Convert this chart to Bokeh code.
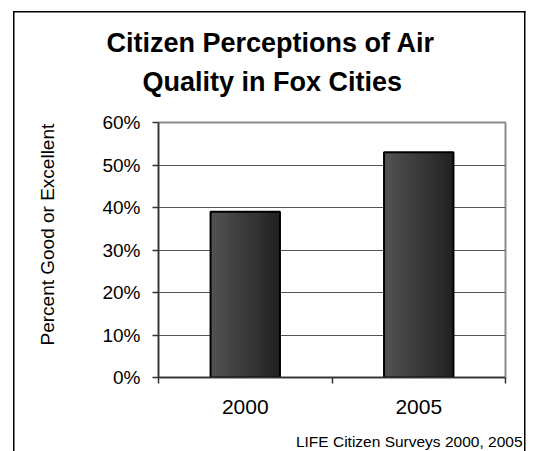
import numpy as np
from bokeh.plotting import figure
from bokeh.models import (Range1d, FixedTicker, PrintfTickFormatter, Title,
                          LinearAxis, ColumnDataSource)
from bokeh.embed import file_html
from bokeh.resources import INLINE

# ---- data ----
years = ["2000", "2005"]
pct_good = [39, 53]
y_ticks = [0, 10, 20, 30, 40, 50, 60]
title_lines = ["Citizen Perceptions of Air", "Quality in Fox Cities"]
y_label = "Percent Good or Excellent"
source_note = "LIFE Citizen Surveys 2000, 2005"

FONT = "Liberation Sans"
W, H = 533, 451
FL, FR, FT, FB = 158, 28, 122, 74   # frame borders inside the canvas

n = len(years)
centers = np.arange(n) + 0.5
bounds = np.arange(n + 1)

p = figure(width=W, height=H, output_backend="svg", toolbar_location=None,
           x_range=Range1d(0, n), y_range=Range1d(0, max(y_ticks)),
           min_border_left=FL, min_border_right=FR,
           min_border_top=FT, min_border_bottom=FB,
           background_fill_color="white", border_fill_color=None)
p.title.visible = False

# outer chart border, drawn on the element behind the transparent canvas border
p.styles = {
    "background-color": "white",
    "background-image": "linear-gradient(#000,#000), linear-gradient(#000,#000), linear-gradient(#000,#000)",
    "background-size": "1.5px 460px, 1.5px 460px, 512.5px 1.5px",
    "background-position": "12.5px 10.5px, 523.5px 10.5px, 12.5px 10.5px",
    "background-repeat": "no-repeat",
}


def spacer_axis(size, tick=1.0):
    """An invisible axis used only to reserve space in a side panel."""
    return LinearAxis(ticker=FixedTicker(ticks=[tick], minor_ticks=[]),
                      major_tick_out=size, major_tick_in=0,
                      minor_tick_out=0, minor_tick_in=0,
                      axis_line_color=None, major_tick_line_color=None,
                      minor_tick_line_color=None, major_label_standoff=0,
                      major_label_overrides={tick: ""},
                      major_label_text_font_size="0px")


# ---- axes ----
xa = p.xaxis[0]
xa.ticker = FixedTicker(ticks=list(centers), minor_ticks=list(bounds))
xa.major_label_overrides = {float(c): y for c, y in zip(centers, years)}
xa.major_tick_out = 0
xa.major_tick_in = 0
xa.minor_tick_out = 6
xa.minor_tick_in = 0
xa.minor_tick_line_color = "#333333"
xa.minor_tick_line_width = 1.5
xa.axis_line_color = "#333333"
xa.axis_line_width = 1.5
xa.major_label_standoff = 16
xa.major_label_text_font = FONT
xa.major_label_text_font_size = "21px"
xa.major_label_text_color = "black"

ya = p.yaxis[0]
ya.ticker = FixedTicker(ticks=y_ticks, minor_ticks=[])
ya.formatter = PrintfTickFormatter(format="%d%%")
ya.major_tick_out = 6
ya.major_tick_in = 0
ya.minor_tick_out = 0
ya.minor_tick_in = 0
ya.major_tick_line_color = "#333333"
ya.major_tick_line_width = 1.5
ya.axis_line_color = "#333333"
ya.axis_line_width = 1.5
ya.major_label_standoff = 12
ya.major_label_text_font = FONT
ya.major_label_text_font_size = "19px"
ya.major_label_text_color = "black"

p.xgrid.visible = False
p.ygrid.grid_line_color = "#555555"
p.ygrid.grid_line_width = 1
p.outline_line_color = "#8c8c8c"
p.outline_line_width = 2

# ---- bars with a left-to-right shading ----
bar_w = 0.4
n_strips = 24
edges = np.linspace(-bar_w / 2, bar_w / 2, n_strips + 1)
mids = (edges[:-1] + edges[1:]) / 2
sw = bar_w / n_strips
shades = np.linspace(82, 34, n_strips).round().astype(int)
strip_cols = ["#%02x%02x%02x" % (s, s, s) for s in shades]

strip_src = ColumnDataSource(dict(
    x=(centers[:, None] + mids[None, :]).ravel(),
    top=np.repeat(pct_good, n_strips),
    color=strip_cols * n,
))
p.vbar(x="x", top="top", bottom=0, width=sw * 1.3, fill_color="color",
       line_color=None, source=strip_src)

bar_src = ColumnDataSource(dict(x=centers, top=pct_good, year=years))
p.vbar(x="x", top="top", bottom=0, width=bar_w, fill_color=None,
       line_color="black", line_width=2, source=bar_src)

# ---- title lines (stacked above the frame, nearest first) ----
p.add_layout(spacer_axis(26, tick=1.0), "above")
p.add_layout(Title(text=title_lines[1], align="left", offset=-16,
                   vertical_align="bottom", standoff=0, text_font=FONT,
                   text_font_size="27px", text_font_style="bold",
                   text_color="black"), "above")
p.add_layout(Title(text=title_lines[0], align="left", offset=-52,
                   vertical_align="bottom", standoff=14, text_font=FONT,
                   text_font_size="27px", text_font_style="bold",
                   text_color="black"), "above")

# ---- y label on the left, beyond a spacer ----
p.add_layout(spacer_axis(42, tick=30.0), "left")
p.add_layout(Title(text=y_label, align="left", offset=32,
                   vertical_align="bottom", standoff=0, text_font=FONT,
                   text_font_size="19px", text_font_style="normal",
                   text_color="black"), "left")

# ---- source note under the axis, beyond a spacer ----
p.add_layout(spacer_axis(14, tick=1.0), "below")
p.add_layout(Title(text=source_note, align="right", offset=-17,
                   vertical_align="bottom", standoff=0, text_font=FONT,
                   text_font_size="15.5px", text_font_style="normal",
                   text_color="black"), "below")

open("out.html", "w").write(file_html(p, INLINE))
